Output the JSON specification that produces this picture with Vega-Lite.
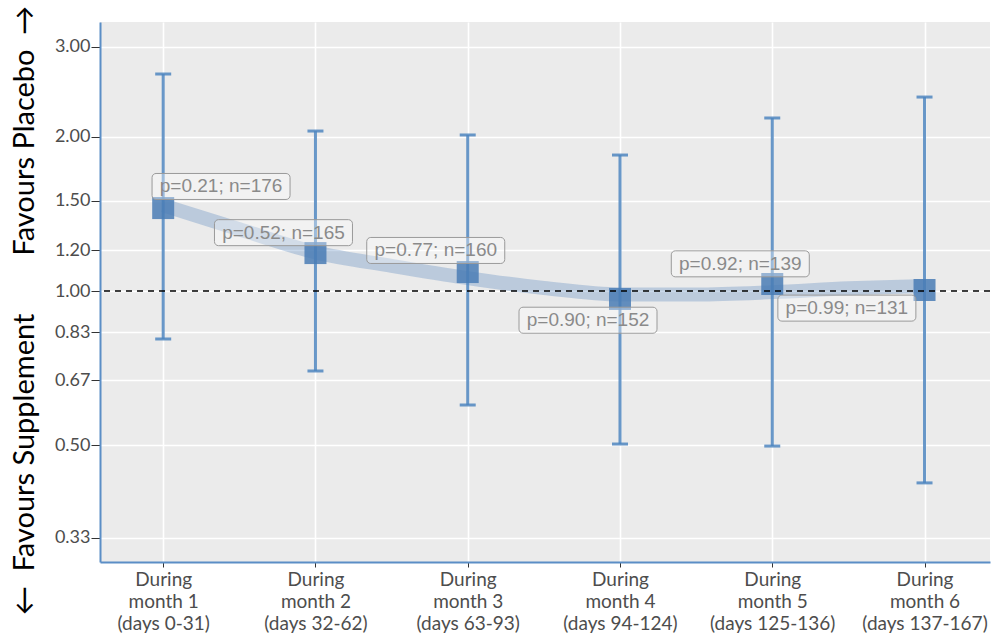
{
  "$schema": "https://vega.github.io/schema/vega-lite/v6.json",
  "width": 890,
  "height": 540,
  "autosize": {"type": "none"},
  "padding": {"left": 100, "top": 22, "right": 7, "bottom": 81},
  "background": "white",
  "config": {
    "view": {"fill": "#EBEBEB", "stroke": null},
    "font": "Lato"
  },
  "datasets": {
    "est": [
      {"m": 1, "est": 1.452, "lo": 0.806, "hi": 2.653, "lx": 1.38, "ly": 1.60, "label": "p=0.21; n=176"},
      {"m": 2, "est": 1.186, "lo": 0.698, "hi": 2.053, "lx": 1.79, "ly": 1.30, "label": "p=0.52; n=165"},
      {"m": 3, "est": 1.089, "lo": 0.599, "hi": 2.017, "lx": 2.79, "ly": 1.20, "label": "p=0.77; n=160"},
      {"m": 4, "est": 0.965, "lo": 0.5026, "hi": 1.843, "lx": 3.79, "ly": 0.877, "label": "p=0.90; n=152"},
      {"m": 5, "est": 1.032, "lo": 0.498, "hi": 2.177, "lx": 4.79, "ly": 1.13, "label": "p=0.92; n=139"},
      {"m": 6, "est": 1.0045, "lo": 0.422, "hi": 2.392, "lx": 5.49, "ly": 0.926, "label": "p=0.99; n=131"}
    ],
    "smooth": [
      {"m": 1, "fit": 1.47},
      {"m": 1.5, "fit": 1.32},
      {"m": 2, "fit": 1.19},
      {"m": 2.5, "fit": 1.12},
      {"m": 3, "fit": 1.06},
      {"m": 3.5, "fit": 1.014},
      {"m": 4, "fit": 0.985},
      {"m": 4.5, "fit": 0.985},
      {"m": 5, "fit": 0.995},
      {"m": 5.5, "fit": 1.012},
      {"m": 6, "fit": 1.023}
    ],
    "ref": [{"r": 1}]
  },
  "encoding": {
    "x": {
      "type": "quantitative",
      "scale": {"domain": [0.585, 6.43], "nice": false, "zero": false},
      "axis": {
        "title": null,
        "values": [1, 2, 3, 4, 5, 6],
        "labelExpr": "datum.value == 1 ? ['During','month 1','(days 0-31)'] : datum.value == 2 ? ['During','month 2','(days 32-62)'] : datum.value == 3 ? ['During','month 3','(days 63-93)'] : datum.value == 4 ? ['During','month 4','(days 94-124)'] : datum.value == 5 ? ['During','month 5','(days 125-136)'] : ['During','month 6','(days 137-167)']",
        "labelFontSize": 19,
        "labelLineHeight": 22,
        "labelColor": "#4D4D4D",
        "labelPadding": 3,
        "labelFont": "Lato",
        "domainColor": "#5B8EC6",
        "domainWidth": 2,
        "tickColor": "#333333",
        "tickSize": 5,
        "grid": true,
        "gridColor": "white",
        "gridWidth": 1.6
      }
    }
  },
  "layer": [
    {
      "data": {"name": "smooth"},
      "mark": {"type": "line", "interpolate": "monotone", "strokeWidth": 14, "color": "#4B7FB8", "opacity": 0.3, "clip": true},
      "encoding": {
        "x": {"field": "m", "type": "quantitative"},
        "y": {
          "field": "fit",
          "type": "quantitative",
          "scale": {"type": "log", "domain": [0.2957, 3.352], "nice": false, "zero": false},
          "axis": {
            "title": "←\u2002Favours Supplement\u2003\u2003\u2002Favours Placebo\u2002→",
            "titleFontSize": 29,
            "titleFont": "Lato",
            "titleFontWeight": "normal",
            "titleColor": "#000000",
            "titleX": -67,
            "titleY": 288,
            "titleAngle": -90,
            "titleAlign": "center",
            "titleBaseline": "alphabetic",
            "values": [0.33, 0.5, 0.67, 0.83, 1, 1.2, 1.5, 2, 3],
            "format": ".2f",
            "labelFontSize": 18,
            "labelColor": "#4D4D4D",
            "labelFont": "Lato",
            "labelPadding": 1,
            "domainColor": "#5B8EC6",
            "domainWidth": 2,
            "tickColor": "#333333",
            "tickSize": 9,
            "grid": true,
            "gridColor": "white",
            "gridWidth": 1.6
          }
        }
      }
    },
    {
      "data": {"name": "est"},
      "mark": {"type": "rule", "color": "#4F86C0", "strokeWidth": 3, "opacity": 0.85},
      "encoding": {
        "x": {"field": "m", "type": "quantitative"},
        "y": {"field": "lo", "type": "quantitative"},
        "y2": {"field": "hi"}
      }
    },
    {
      "data": {"name": "est"},
      "mark": {"type": "tick", "orient": "horizontal", "color": "#4F86C0", "size": 16, "thickness": 3, "opacity": 0.85},
      "encoding": {
        "x": {"field": "m", "type": "quantitative"},
        "y": {"field": "hi", "type": "quantitative"}
      }
    },
    {
      "data": {"name": "est"},
      "mark": {"type": "tick", "orient": "horizontal", "color": "#4F86C0", "size": 16, "thickness": 3, "opacity": 0.85},
      "encoding": {
        "x": {"field": "m", "type": "quantitative"},
        "y": {"field": "lo", "type": "quantitative"}
      }
    },
    {
      "data": {"name": "est"},
      "mark": {"type": "point", "shape": "square", "filled": true, "size": 484, "color": "#4A7DB5", "opacity": 0.85},
      "encoding": {
        "x": {"field": "m", "type": "quantitative"},
        "y": {"field": "est", "type": "quantitative"}
      }
    },
    {
      "data": {"name": "ref"},
      "mark": {"type": "rule", "color": "black", "strokeWidth": 1.5, "strokeDash": [6, 5]},
      "encoding": {
        "y": {"field": "r", "type": "quantitative"}
      }
    },
    {
      "data": {"name": "est"},
      "mark": {
        "type": "point",
        "shape": "M-0.942,-0.1884 H0.942 A0.058,0.058 0 0 1 1,-0.1304 V0.1304 A0.058,0.058 0 0 1 0.942,0.1884 H-0.942 A0.058,0.058 0 0 1 -1,0.1304 V-0.1304 A0.058,0.058 0 0 1 -0.942,-0.1884 Z",
        "filled": true,
        "size": 19044,
        "fill": "#FFFFFF",
        "fillOpacity": 0.35,
        "stroke": "#9A9A9A",
        "strokeWidth": 1,
        "strokeOpacity": 1,
        "opacity": 1
      },
      "encoding": {
        "x": {"field": "lx", "type": "quantitative"},
        "y": {"field": "ly", "type": "quantitative"}
      }
    },
    {
      "data": {"name": "est"},
      "mark": {"type": "text", "font": "Liberation Sans", "fontSize": 19, "color": "#8A8A8A", "align": "center", "baseline": "middle"},
      "encoding": {
        "x": {"field": "lx", "type": "quantitative"},
        "y": {"field": "ly", "type": "quantitative"},
        "text": {"field": "label"}
      }
    }
  ]
}
